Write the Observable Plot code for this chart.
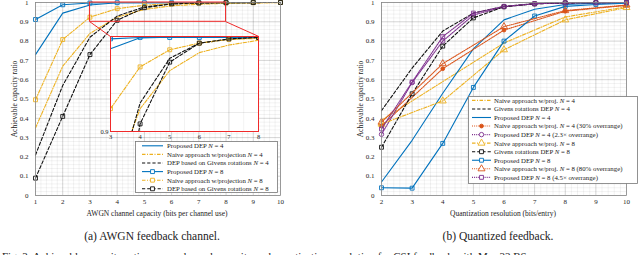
<!DOCTYPE html>
<html><head><meta charset="utf-8">
<script src="https://cdn.jsdelivr.net/npm/d3@7"></script>
<script src="https://cdn.jsdelivr.net/npm/@observablehq/plot@0.6"></script>
<style>
body{margin:0;background:#fff;}
#root{position:relative;width:640px;height:255px;overflow:hidden;font-family:"Liberation Serif",serif;}
#root svg{position:absolute;}
</style></head><body><div id="root"></div>
<script>
// ---------- data: (a) AWGN feedback channel ----------
const awgnX = [1, 2, 3, 4, 5, 6, 7, 8, 9, 10];
const awgnPropN4   = [0.73, 0.945, 0.987, 0.9986, 0.9992, 0.9995, 0.9997, 0.9998, 0.9999, 1.0];
const awgnNaiveN4  = [0.35, 0.67, 0.84, 0.924, 0.964, 0.983, 0.991, 0.996, 0.998, 0.999];
const awgnGivensN4 = [0.21, 0.57, 0.82, 0.93, 0.977, 0.993, 0.997, 0.999, 0.9995, 1.0];
const awgnPropN8   = [0.912, 0.988, 0.9975, 0.999, 0.999, 0.999, 0.999, 0.999, 1.0, 1.0];
const awgnNaiveN8  = [0.496, 0.808, 0.924, 0.968, 0.986, 0.993, 0.997, 0.998, 0.999, 1.0];
const awgnGivensN8 = [0.09, 0.41, 0.73, 0.908, 0.973, 0.993, 0.9975, 0.999, 0.9995, 1.0];
const awgnXTicks = [1, 2, 3, 4, 5, 6, 7, 8, 9, 10];
const insetXTicks = [3, 4, 5, 6, 7, 8];
const insetYTicks = [0.9];
const zoomBox = {x1: 3, x2: 8, y1: 0.9, y2: 1.0};
const insetBox = {x1: 3.75, x2: 9.2, y1: 0.333, y2: 0.824};
const legendLeft = [
  "Proposed DEP N = 4",
  "Naive approach w/projection N = 4",
  "DEP based on Givens rotations N = 4",
  "Proposed DEP N = 8",
  "Naive approach w/projection N = 8",
  "DEP based on Givens rotations N = 8"
];
// ---------- data: (b) Quantized feedback ----------
const quantX = [2, 3, 4, 5, 6, 7, 8, 9, 10];
const quantXEven = [2, 4, 6, 8, 10];
const qNaiveN4    = [0.39, 0.59, 0.79, 0.925, 0.978];
const qGivensN4   = [0.44, 0.66, 0.852, 0.945, 0.98, 0.994, 0.998, 0.999, 1.0];
const qPropN4     = [0.07, 0.286, 0.53, 0.76, 0.91, 0.965, 0.99, 0.997, 0.999];
const qNaiveN4o30 = [0.36, 0.657, 0.857, 0.955, 0.985];
const qPropN4o23  = [0.317, 0.585, 0.80, 0.935, 0.978, 0.993, 0.998, 0.999, 1.0];
const qNaiveN8    = [0.37, 0.49, 0.755, 0.91, 0.974];
const qGivensN8   = [0.25, 0.527, 0.774, 0.92, 0.978, 0.993, 0.998, 0.999, 1.0];
const qPropN8     = [0.04, 0.038, 0.27, 0.56, 0.80, 0.93, 0.98, 0.99, 0.997];
const qNaiveN8o80 = [0.38, 0.683, 0.875, 0.958, 0.987];
const qPropN8o45  = [0.345, 0.588, 0.823, 0.945, 0.98, 0.994, 0.998, 0.999, 1.0];
const quantXTicks = [2, 3, 4, 5, 6, 7, 8, 9, 10];
const legendRight = [
  "Naive approach w/proj. N = 4",
  "Givens rotations DEP N = 4",
  "Proposed DEP N = 4",
  "Naive approach w/proj. N = 4 (30% overrange)",
  "Proposed DEP N = 4 (2.3\u00d7 overrange)",
  "Naive approach w/proj. N = 8",
  "Givens rotations DEP N = 8",
  "Proposed DEP N = 8",
  "Naive approach w/proj. N = 8 (80% overrange)",
  "Proposed DEP N = 8 (4.5\u00d7 overrange)"
];
const yTicks = [0, 0.1, 0.2, 0.3, 0.4, 0.5, 0.6, 0.7, 0.8, 0.9, 1];

// ---------- styles ----------
const C = {blue: "#0072BD", yellow: "#EDB120", black: "#111111", orange: "#D95319", purple: "#7E2F8E", red: "#f02a2a"};
const DASH = {solid: undefined, dashed: "3.2,2", dashdot: "3.5,1.5,1,1.5", dotted: "1,1.1"};
const FONT = "'Liberation Serif', 'DejaVu Serif', serif";

const leftSeries = [
  {x: awgnX, y: awgnPropN4, color: C.blue, dash: "solid", sym: null, label: legendLeft[0]},
  {x: awgnX, y: awgnNaiveN4, color: C.yellow, dash: "dashdot", sym: null, label: legendLeft[1]},
  {x: awgnX, y: awgnGivensN4, color: C.black, dash: "dashed", sym: null, label: legendLeft[2]},
  {x: awgnX, y: awgnPropN8, color: C.blue, dash: "solid", sym: "square", label: legendLeft[3]},
  {x: awgnX, y: awgnNaiveN8, color: C.yellow, dash: "dashdot", sym: "square", label: legendLeft[4]},
  {x: awgnX, y: awgnGivensN8, color: C.black, dash: "dashed", sym: "square", label: legendLeft[5]}
];
const rightSeries = [
  {x: quantXEven, y: qNaiveN4, color: C.yellow, dash: "dashdot", sym: null, label: legendRight[0]},
  {x: quantX, y: qGivensN4, color: C.black, dash: "dashed", sym: null, label: legendRight[1]},
  {x: quantX, y: qPropN4, color: C.blue, dash: "solid", sym: null, label: legendRight[2]},
  {x: quantXEven, y: qNaiveN4o30, color: C.orange, dash: "dotted", sym: "circle", fill: C.orange, r: 1.9, label: legendRight[3]},
  {x: quantX, y: qPropN4o23, color: C.purple, dash: "dotted", sym: "circle", r: 2.2, label: legendRight[4]},
  {x: quantXEven, y: qNaiveN8, color: C.yellow, dash: "dashdot", sym: "triangle", r: 2.6, label: legendRight[5]},
  {x: quantX, y: qGivensN8, color: C.black, dash: "dashed", sym: "square", label: legendRight[6]},
  {x: quantX, y: qPropN8, color: C.blue, dash: "solid", sym: "square", label: legendRight[7]},
  {x: quantXEven, y: qNaiveN8o80, color: C.orange, dash: "dotted", sym: "triangle", r: 2.6, label: legendRight[8]},
  {x: quantX, y: qPropN8o45, color: C.purple, dash: "dotted", sym: "square", label: legendRight[9]}
];

function seriesMarks(series, clip) {
  return series.flatMap(s => {
    const rows = s.x.map((x, i) => ({x, y: s.y[i]}));
    const m = [Plot.line(rows, {x: "x", y: "y", stroke: s.color, strokeWidth: 1.1, strokeDasharray: DASH[s.dash], clip})];
    if (s.sym) m.push(Plot.dot(rows, {x: "x", y: "y", symbol: s.sym, r: s.r ?? 2.2, stroke: s.color, strokeWidth: 0.9, fill: s.fill ?? "none", clip}));
    return m;
  });
}

function panel(cfg) {
  const [a, b] = cfg.xDomain;
  return Plot.plot({
    width: cfg.width, height: 200,
    marginLeft: cfg.ml, marginRight: cfg.mr, marginTop: 2, marginBottom: 5,
    x: {domain: cfg.xDomain}, y: {domain: [0, 1]},
    style: {fontFamily: FONT, fontSize: "7px", background: "transparent", overflow: "visible", color: "#262626"},
    marks: [
      Plot.ruleX(d3.range(a, b + 1e-9, 0.2), {stroke: "#000", strokeOpacity: 0.05}),
      Plot.ruleY(d3.range(0, 1 + 1e-9, 0.02), {stroke: "#000", strokeOpacity: 0.05}),
      Plot.ruleX(cfg.xTicks, {stroke: "#000", strokeOpacity: 0.12}),
      Plot.ruleY(yTicks, {stroke: "#000", strokeOpacity: 0.12}),
      Plot.axisX(cfg.xTicks, {tickSize: 0, tickPadding: 4, label: null, fontSize: 7}),
      Plot.axisY(yTicks, {tickSize: 0, tickPadding: 7, label: null, fontSize: 7, tickFormat: d => String(d)}),
      ...seriesMarks(cfg.series, false),
      Plot.frame({stroke: "#8a8a8a", strokeWidth: 0.8}),
      ...(cfg.extra || [])
    ]
  });
}

const root = document.getElementById("root");

// ---- left panel ----
const links = [
  {x1: zoomBox.x1, y1: zoomBox.y1, x2: insetBox.x1, y2: insetBox.y2},
  {x1: zoomBox.x2, y1: zoomBox.y1, x2: insetBox.x2, y2: insetBox.y2}
];
const left = panel({
  width: 300, ml: 35, mr: 20, xDomain: [1, 10], xTicks: awgnXTicks, series: leftSeries,
  extra: [
    Plot.rect([zoomBox], {x1: "x1", x2: "x2", y1: "y1", y2: "y2", fill: "none", stroke: C.red, strokeWidth: 1}),
    Plot.link(links, {x1: "x1", y1: "y1", x2: "x2", y2: "y2", stroke: C.red, strokeWidth: 1})
  ]
});
left.style.left = "0px"; left.style.top = "0px";
root.appendChild(left);

// ---- inset ----
const sx = left.scale("x"), sy = left.scale("y");
const ix0 = sx.apply(insetBox.x1), ix1 = sx.apply(insetBox.x2);
const iy0 = sy.apply(insetBox.y2), iy1 = sy.apply(insetBox.y1);
const inset = Plot.plot({
  width: Math.round(ix1 - ix0), height: Math.round(iy1 - iy0),
  marginLeft: 0, marginRight: 0, marginTop: 0, marginBottom: 0,
  x: {domain: [3, 8]}, y: {domain: [0.9, 1]},
  style: {fontFamily: FONT, fontSize: "6.5px", background: "white", overflow: "visible", color: "#262626"},
  marks: [
    Plot.ruleX(d3.range(3, 8.001, 0.5), {stroke: "#000", strokeOpacity: 0.05}),
    Plot.ruleY(d3.range(0.9, 1.0001, 0.02), {stroke: "#000", strokeOpacity: 0.08}),
    Plot.ruleX(insetXTicks, {stroke: "#000", strokeOpacity: 0.1}),
    Plot.axisX(insetXTicks, {tickSize: 0, tickPadding: 3, label: null, fontSize: 6.5}),
    Plot.axisY(insetYTicks, {tickSize: 0, tickPadding: 2, label: null, fontSize: 6.5, tickFormat: d => String(d)}),
    ...seriesMarks(leftSeries, true),
    Plot.frame({stroke: C.red, strokeWidth: 1})
  ]
});
inset.style.left = Math.round(ix0) + "px"; inset.style.top = Math.round(iy0) + "px";
root.appendChild(inset);

// ---- right panel ----
const right = panel({width: 320, ml: 61, mr: 14, xDomain: [2, 10], xTicks: quantXTicks, series: rightSeries});
right.style.left = "320px"; right.style.top = "0px";
root.appendChild(right);

// ---- legends ----
const symMap = {square: d3.symbolSquare, triangle: d3.symbolTriangle, circle: d3.symbolCircle};
function legend(series, o) {
  const svg = d3.create("svg").attr("width", o.w).attr("height", o.h)
    .style("left", o.x + "px").style("top", o.y + "px").style("overflow", "visible");
  svg.append("rect").attr("x", 0.5).attr("y", 0.5).attr("width", o.w - 1).attr("height", o.h - 1)
    .attr("fill", "white").attr("stroke", "#777").attr("stroke-width", 0.8);
  series.forEach((s, i) => {
    const y = o.row0 + i * o.rowH;
    svg.append("line").attr("x1", o.s0).attr("x2", o.s1).attr("y1", y).attr("y2", y)
      .attr("stroke", s.color).attr("stroke-width", 1.1).attr("stroke-dasharray", DASH[s.dash] ?? null);
    if (s.sym) {
      const r = s.r ?? 2.2;
      svg.append("path").attr("d", d3.symbol(symMap[s.sym], r * r * Math.PI)())
        .attr("transform", `translate(${(o.s0 + o.s1) / 2},${y})`)
        .attr("fill", s.fill ?? "white").attr("stroke", s.color).attr("stroke-width", 0.9);
    }
    const t = svg.append("text").attr("x", o.tx).attr("y", y).attr("dy", "0.35em")
      .style("font-family", FONT).attr("font-size", o.fs).attr("fill", "#222");
    const parts = s.label.split(/\bN\b/);
    parts.forEach((p, k) => {
      t.append("tspan").text(p);
      if (k < parts.length - 1) t.append("tspan").attr("font-style", "italic").text("N");
    });
  });
  root.appendChild(svg.node());
}
legend(leftSeries, {x: 135, y: 141, w: 143, h: 52, row0: 4.8, rowH: 8.6, s0: 7, s1: 28, tx: 32, fs: 6.8});
legend(rightSeries, {x: 468, y: 96, w: 170, h: 88, row0: 4.4, rowH: 8.55, s0: 4, s1: 23, tx: 26, fs: 6.8});

// ---- texts ----
const txt = d3.create("svg").attr("width", 640).attr("height", 255).style("left", "0px").style("top", "0px")
  .style("font-family", FONT).attr("fill", "#222");
function addText(x, y, s, size, anchor = "middle", rot = 0) {
  txt.append("text").attr("x", x).attr("y", y).attr("font-size", size).attr("text-anchor", anchor)
    .attr("transform", rot ? `rotate(${rot},${x},${y})` : null).text(s);
}
addText(17, 99, "Achievable capacity ratio", 7.5, "middle", -90);
addText(363, 99, "Achievable capacity ratio", 7.5, "middle", -90);
addText(157, 216, "AWGN channel capacity (bits per channel use)", 7.5);
addText(503, 216, "Quantization resolution (bits/entry)", 7.5);
addText(152, 240, "(a) AWGN feedback channel.", 11.5);
addText(498, 240, "(b) Quantized feedback.", 11.5);
addText(2, 260, "Fig. 3: Achievable capacity ratio versus channel capacity and quantization resolution for CSI feedback with M = 32 BS.", 11, "start");
root.appendChild(txt.node());
</script></body></html>
